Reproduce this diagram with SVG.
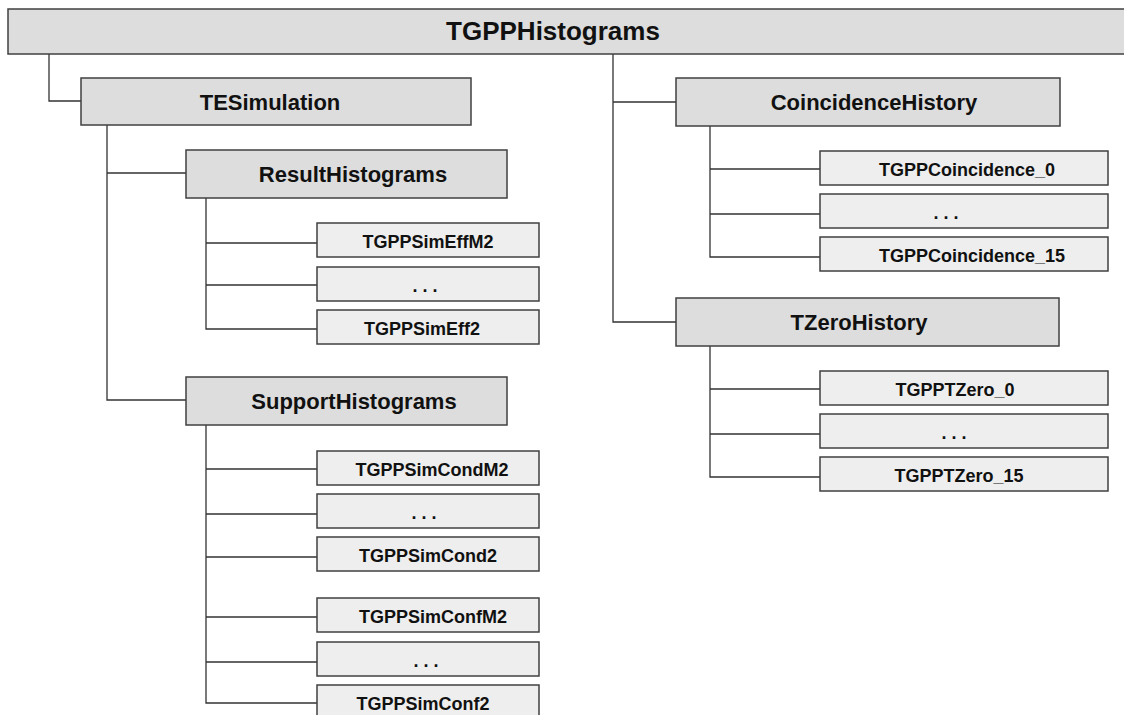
<svg xmlns="http://www.w3.org/2000/svg" width="1124" height="715" viewBox="0 0 1124 715">
<style>
.big{fill:#dddddd;stroke:#404040;stroke-width:1.5}
.small{fill:#eeeeee;stroke:#404040;stroke-width:1.5}
.t{font-family:"Liberation Sans",Arial,sans-serif;font-weight:bold;fill:#111;text-anchor:middle}
.t26{font-size:26px}
.t22{font-size:22px}
.t18{font-size:18px}
.c{fill:none;stroke:#333;stroke-width:1.3}
</style>
<rect width="1124" height="715" fill="#ffffff"/>
<g id="connectors">
<path class="c" d="M49,54 V101 H81"/>
<path class="c" d="M613,54 V322 H676 M613,102 H676"/>
<path class="c" d="M107,125 V400 H186 M107,173 H186"/>
<path class="c" d="M206,198 V329 H317 M206,243 H317 M206,285 H317"/>
<path class="c" d="M206,425 V703 H317 M206,469 H317 M206,514 H317 M206,557 H317 M206,617 H317 M206,662 H317"/>
<path class="c" d="M710,126 V257 H820 M710,169 H820 M710,214 H820"/>
<path class="c" d="M710,346 V477 H820 M710,389 H820 M710,434 H820"/>
</g>
<g id="TGPPHistograms"><rect class="big" x="8" y="9" width="1130" height="45"/><text class="t t26" x="553" y="40">TGPPHistograms</text></g>
<g id="TESimulation"><rect class="big" x="81" y="78" width="390" height="47"/><text class="t t22" x="270" y="110">TESimulation</text></g>
<g id="ResultHistograms"><rect class="big" x="186" y="150" width="321" height="48"/><text class="t t22" x="353" y="182">ResultHistograms</text></g>
<g id="SupportHistograms"><rect class="big" x="186" y="377" width="321" height="48"/><text class="t t22" x="354" y="409">SupportHistograms</text></g>
<g id="CoincidenceHistory"><rect class="big" x="676" y="78" width="384" height="48"/><text class="t t22" x="874" y="110">CoincidenceHistory</text></g>
<g id="TZeroHistory"><rect class="big" x="676" y="298" width="383" height="48"/><text class="t t22" x="859" y="330">TZeroHistory</text></g>
<g id="TGPPSimEffM2"><rect class="small" x="317" y="223" width="222" height="34"/><text class="t t18" x="428" y="248">TGPPSimEffM2</text></g>
<g id="SimEffDots"><rect class="small" x="317" y="267" width="222" height="34"/><text class="t t18" x="425" y="292">. . .</text></g>
<g id="TGPPSimEff2"><rect class="small" x="317" y="310" width="222" height="34"/><text class="t t18" x="422" y="335">TGPPSimEff2</text></g>
<g id="TGPPSimCondM2"><rect class="small" x="317" y="451" width="222" height="34"/><text class="t t18" x="432" y="476">TGPPSimCondM2</text></g>
<g id="SimCondDots"><rect class="small" x="317" y="494" width="222" height="34"/><text class="t t18" x="424" y="519">. . .</text></g>
<g id="TGPPSimCond2"><rect class="small" x="317" y="537" width="222" height="34"/><text class="t t18" x="428" y="562">TGPPSimCond2</text></g>
<g id="TGPPSimConfM2"><rect class="small" x="317" y="598" width="222" height="34"/><text class="t t18" x="433" y="623">TGPPSimConfM2</text></g>
<g id="SimConfDots"><rect class="small" x="317" y="642" width="222" height="34"/><text class="t t18" x="426" y="667">. . .</text></g>
<g id="TGPPSimConf2"><rect class="small" x="317" y="685" width="222" height="34"/><text class="t t18" x="423" y="710">TGPPSimConf2</text></g>
<g id="TGPPCoincidence_0"><rect class="small" x="820" y="151" width="288" height="34"/><text class="t t18" x="967" y="176">TGPPCoincidence_0</text></g>
<g id="CoincidenceDots"><rect class="small" x="820" y="194" width="288" height="34"/><text class="t t18" x="946" y="219">. . .</text></g>
<g id="TGPPCoincidence_15"><rect class="small" x="820" y="237" width="288" height="34"/><text class="t t18" x="972" y="262">TGPPCoincidence_15</text></g>
<g id="TGPPTZero_0"><rect class="small" x="820" y="371" width="288" height="34"/><text class="t t18" x="955" y="396">TGPPTZero_0</text></g>
<g id="TZeroDots"><rect class="small" x="820" y="414" width="288" height="34"/><text class="t t18" x="954" y="439">. . .</text></g>
<g id="TGPPTZero_15"><rect class="small" x="820" y="457" width="288" height="34"/><text class="t t18" x="959" y="482">TGPPTZero_15</text></g>
</svg>
